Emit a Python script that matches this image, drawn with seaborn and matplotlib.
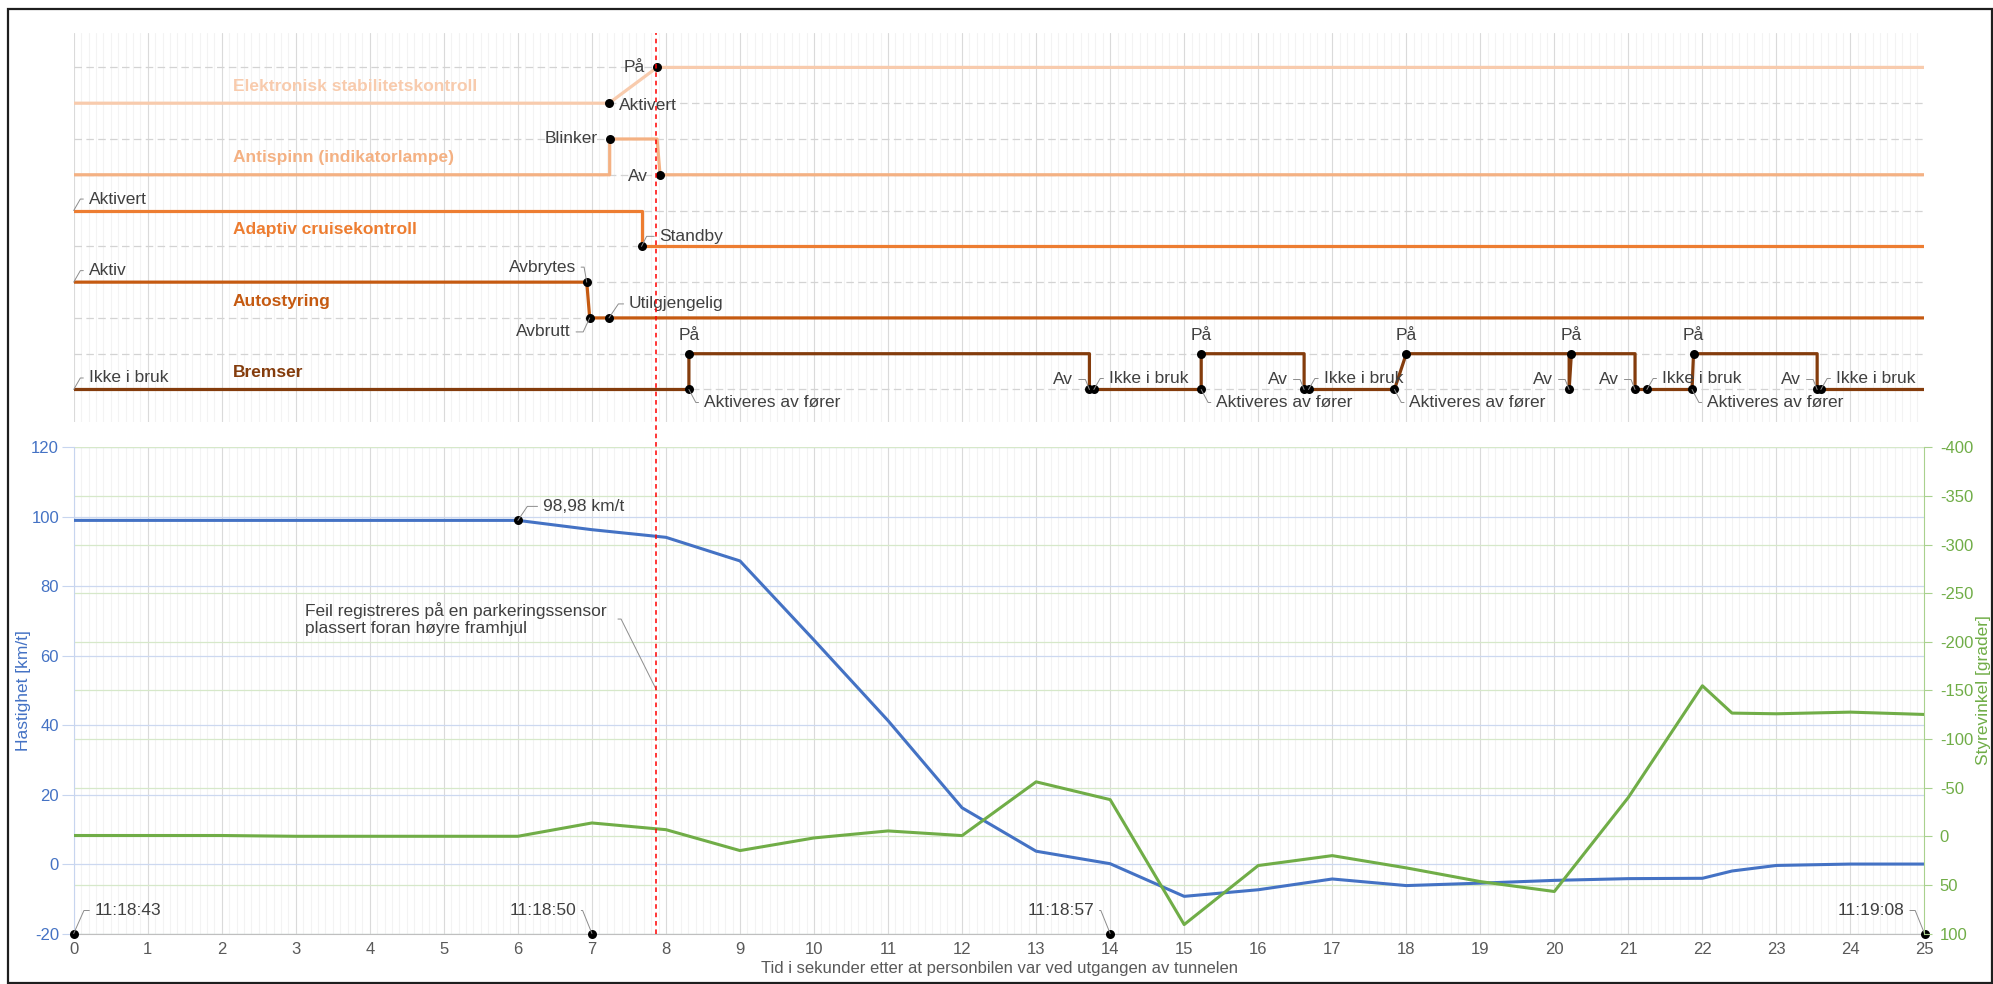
import matplotlib
matplotlib.use("Agg")
import matplotlib.pyplot as plt
import seaborn as sns
from matplotlib.lines import Line2D
from matplotlib.patches import Rectangle
from matplotlib.ticker import MultipleLocator
from matplotlib.transforms import blended_transform_factory

# ---------------- data ----------------
TIME = [0, 1, 2, 3, 4, 5, 6, 7, 8, 9, 10, 11, 12, 13, 14, 15, 16, 17, 18, 19,
        20, 21, 22, 22.4, 23, 24, 25]
SPEED = [98.98, 98.98, 98.98, 98.98, 98.98, 98.98, 98.98, 96.3, 94.1, 87.3,
         64.5, 41.3, 16.2, 3.7, 0.1, -9.3, -7.4, -4.3, -6.2, -5.5, -4.7, -4.2,
         -4.1, -2.0, -0.4, 0.0, 0.0]
STEER = [-0.8, -0.8, -0.8, 0.0, 0.0, 0.0, 0.0, -13.7, -6.8, 14.7, 1.7, -5.5,
         -0.7, -56.0, -37.7, 90.8, 30.1, 19.9, 32.5, 46.6, 56.8, -40.0, -154.8,
         -126.7, -126.0, -127.7, -125.3]

SPEED_MARK_T = 6
SPEED_MARK_TEXT = "98,98 km/t"
TS_T = [0, 7, 14, 25]
TS_LABELS = ["11:18:43", "11:18:50", "11:18:57", "11:19:08"]
EVENT_T = 7.87
EVENT_TEXT = "Feil registreres på en parkeringssensor\nplassert foran høyre framhjul"

SERIES = ["Elektronisk stabilitetskontroll", "Antispinn (indikatorlampe)",
          "Adaptiv cruisekontroll", "Autostyring", "Bremser"]
ESC_T = [0, 7.23, 7.88, 25]
ESC_S = ["", "Aktivert", "På", "På"]
ANTI_T = [0, 7.24, 7.24, 7.88, 7.92, 25]
ANTI_S = ["Av", "Av", "Blinker", "Blinker", "Av", "Av"]
ACC_T = [0, 7.67, 7.67, 25]
ACC_S = ["Aktivert", "Aktivert", "Standby", "Standby"]
AUTO_T = [0, 6.93, 6.97, 7.23, 25]
AUTO_S = ["Aktiv", "Avbrytes", "Avbrutt", "Utilgjengelig", "Utilgjengelig"]
BRAKE_T = [0, 8.31, 8.31, 13.72, 13.72, 13.78, 15.23, 15.23, 16.62, 16.62,
           16.68, 17.84, 18.0, 20.2, 20.2, 20.23, 21.09, 21.09, 21.25, 21.86,
           21.88, 23.55, 23.55, 23.6, 25]
BRAKE_S = ["Ikke i bruk", "Aktiveres av fører", "På", "På", "Av", "Ikke i bruk",
           "Aktiveres av fører", "På", "På", "Av", "Ikke i bruk",
           "Aktiveres av fører", "På", "På", "Av", "På", "På", "Av",
           "Ikke i bruk", "Aktiveres av fører", "På", "På", "Av", "Ikke i bruk",
           "Ikke i bruk"]

# ---------------- layout / style ----------------
W_PX, H_PX = 1993, 984
BLUE, GREEN = "#4472C4", "#70AD47"
COLS = ["#F8CBAD", "#F4B183", "#ED7D31", "#C55A11", "#843C0C"]
TXT, LEAD, AX_GRAY = "#404040", "#8C8C8C", "#595959"
FS = 12.5

ROWS = [{"": 8, "Aktivert": 8, "På": 9},
        {"Av": 6, "Blinker": 7},
        {"Standby": 4, "Aktivert": 5},
        {"Avbrutt": 2, "Utilgjengelig": 2, "Aktiv": 3, "Avbrytes": 3},
        {"Ikke i bruk": 0, "Aktiveres av fører": 0, "Av": 0, "På": 1}]
START_LABEL = [False, False, True, True, True]
START_STYLE = (15, 11.5, "left", 60)
STYLES = [
    {"Aktivert": (10, -2, "left", None), "På": (-12, 0, "right", None)},
    {"Blinker": (-12, 0, "right", None), "Av": (-12, -2, "right", None)},
    {"Standby": (18, 10, "left", 63)},
    {"Avbrytes": (-11, 15, "right", 100), "Avbrutt": (-19, -14, "right", 65),
     "Utilgjengelig": (20, 14, "left", 56)},
    {"På": (0, 18, "center", None), "Av": (-16, 10, "right", 112),
     "Ikke i bruk": (15, 11, "left", 60),
     "Aktiveres av fører": (15, -13, "left", -62)},
]

sns.set_style("white")
plt.rcParams["font.family"] = ["Liberation Sans", "DejaVu Sans"]
plt.rcParams["axes.unicode_minus"] = False

fig = plt.figure(figsize=(W_PX / 100, H_PX / 100), dpi=100)
L = 73.7 / W_PX
WID = (1924.5 - 73.7) / W_PX
top_b, top_t = 421.7, 32.7
bot_b, bot_t = 933.5, 447.4
ax_top = fig.add_axes([L, 1 - top_b / H_PX, WID, (top_b - top_t) / H_PX])
ax = fig.add_axes([L, 1 - bot_b / H_PX, WID, (bot_b - bot_t) / H_PX])
ax2 = ax.twinx()


def label(a, x, y, text, dx, dy, ha, angle, shrinkA=1.5, **extra):
    kw = dict(textcoords="offset pixels", ha=ha, va="center", fontsize=FS,
              color=TXT, zorder=6, annotation_clip=False)
    kw.update(extra)
    if angle is not None:
        kw["arrowprops"] = dict(arrowstyle="-", color=LEAD, lw=0.7,
                                shrinkA=shrinkA, shrinkB=0,
                                relpos=(0 if ha == "left" else 1, 0.5),
                                connectionstyle=f"angle,angleA=0,angleB={angle},rad=0")
    a.annotate(text, xy=(x, y), xytext=(dx, dy), **kw)


def vgrid(a):
    a.set_xlim(0, 25)
    a.xaxis.set_major_locator(MultipleLocator(1))
    a.xaxis.set_minor_locator(MultipleLocator(0.1))
    a.grid(which="major", axis="x", color="#DADADA", lw=0.8)
    a.grid(which="minor", axis="x", color="#F3F3F3", lw=0.8)
    a.set_axisbelow(True)


# ---------------- top panel ----------------
vgrid(ax_top)
ax_top.set_ylim(-0.9, 9.97)
ax_top.set_yticks(range(10))
ax_top.grid(which="major", axis="y", color="#D3D3D3", lw=0.9, ls=(0, (6, 3.5)))
ax_top.tick_params(which="both", length=0, labelbottom=False, labelleft=False)
for s in ax_top.spines.values():
    s.set_visible(False)

ALL_T = [ESC_T, ANTI_T, ACC_T, AUTO_T, BRAKE_T]
ALL_S = [ESC_S, ANTI_S, ACC_S, AUTO_S, BRAKE_S]
for i, (ts, ss) in enumerate(zip(ALL_T, ALL_S)):
    rows = ROWS[i]
    levels = [rows[s] for s in ss]
    sns.lineplot(x=ts, y=levels, ax=ax_top, color=COLS[i], lw=2.3, sort=False,
                 estimator=None, zorder=3)
    base = min(rows.values())
    ax_top.text(2.15, base + 0.47, SERIES[i], color=COLS[i], fontsize=FS,
                fontweight="bold", ha="left", va="center")
    dots_x, dots_y = [], []
    for k, (t, s) in enumerate(zip(ts, ss)):
        if k == 0:
            if START_LABEL[i]:
                label(ax_top, t, rows[s], s, *START_STYLE)
            continue
        if s != ss[k - 1] and s:
            dots_x.append(t)
            dots_y.append(rows[s])
            label(ax_top, t, rows[s], s, *STYLES[i][s])
    sns.scatterplot(x=dots_x, y=dots_y, ax=ax_top, color="black", s=42,
                    linewidth=0, zorder=5)

# ---------------- bottom panel ----------------
vgrid(ax)
ax.set_ylim(-20, 120)
ax.yaxis.set_major_locator(MultipleLocator(20))
ax.grid(which="major", axis="y", color="#CCD8F0", lw=0.9)
ax2.set_ylim(100, -400)
ax2.yaxis.set_major_locator(MultipleLocator(50))
ax2.grid(False)
gtrans = blended_transform_factory(ax.transAxes, ax2.transData)
for v in range(-400, 101, 50):
    ax.plot([0, 1], [v, v], transform=gtrans, color="#D6E8C9", lw=0.9, zorder=0.6)

sns.lineplot(x=TIME, y=SPEED, ax=ax, color=BLUE, lw=2.2, sort=False,
             estimator=None, zorder=3)
sns.lineplot(x=TIME, y=STEER, ax=ax2, color=GREEN, lw=2.2, sort=False,
             estimator=None, zorder=3)

for s in ["top", "right"]:
    ax.spines[s].set_visible(False)
ax.spines["left"].set_color("#C7D5EF")
ax.spines["bottom"].set_color("#BFBFBF")
for s in ["top", "left", "bottom"]:
    ax2.spines[s].set_visible(False)
ax2.spines["right"].set_color("#A9D18E")

ax.tick_params(axis="y", which="major", length=9, width=0.8, color="#C7D5EF",
               labelcolor=BLUE, labelsize=12, pad=1.5)
ax.tick_params(axis="x", which="major", length=4, width=0.8, color="#BFBFBF",
               labelcolor=AX_GRAY, labelsize=12, pad=2)
ax.tick_params(axis="x", which="minor", length=0)
ax2.tick_params(axis="y", which="major", length=6, width=0.8, color="#A9D18E",
                labelcolor=GREEN, labelsize=12, pad=5)

ax.set_xlabel("Tid i sekunder etter at personbilen var ved utgangen av tunnelen",
              color=AX_GRAY, fontsize=12, labelpad=3)
ax.set_ylabel("Hastighet [km/t]", color=BLUE, fontsize=12.5)
ax2.set_ylabel("Styrevinkel [grader]", color=GREEN, fontsize=12.5)
ax.yaxis.label.set_va("center")
ax2.yaxis.label.set_va("center")
ax.yaxis.set_label_coords((23 - 73.7) / (1924.5 - 73.7), 0.5)
ax2.yaxis.set_label_coords((1984 - 73.7) / (1924.5 - 73.7), 0.5)

# speed marker
sns.scatterplot(x=[SPEED_MARK_T], y=[SPEED[TIME.index(SPEED_MARK_T)]], ax=ax,
                color="black", s=42, linewidth=0, zorder=5)
label(ax, SPEED_MARK_T, SPEED[TIME.index(SPEED_MARK_T)], SPEED_MARK_TEXT,
      25, 14, "left", 56)

# timestamps
ts_sc = sns.scatterplot(x=TS_T, y=[-20] * len(TS_T), ax=ax, color="black",
                        s=42, linewidth=0, zorder=5)
ts_sc.collections[-1].set_clip_on(False)
for t, lab in zip(TS_T, TS_LABELS):
    if t == TS_T[0]:
        label(ax, t, -20, lab, 21, 23, "left", 66)
    elif t == TS_T[-1]:
        label(ax, t, -20, lab, -20, 23, "right", 112)
    else:
        label(ax, t, -20, lab, -16, 23, "right", 112)

# event annotation
label(ax, EVENT_T, 50.2, EVENT_TEXT, -50, 70.7, "right", 116.5, shrinkA=6,
      multialignment="left")

# red dashed event line across both panels
red = Line2D([EVENT_T, EVENT_T], [1 - bot_b / H_PX, 1 - top_t / H_PX],
             transform=blended_transform_factory(ax.transData, fig.transFigure),
             color="#FF0000", lw=1.1, ls=(0, (3, 2.5)), zorder=10)
fig.add_artist(red)

# outer frame
fig.patches.append(Rectangle((7.5 / W_PX, 1 - 982.5 / H_PX),
                             (1991.8 - 7.5) / W_PX, (982.5 - 9) / H_PX,
                             transform=fig.transFigure, fill=False,
                             ec="#1E1E1E", lw=1.6, zorder=20))

fig.savefig("out.png", dpi=100)
